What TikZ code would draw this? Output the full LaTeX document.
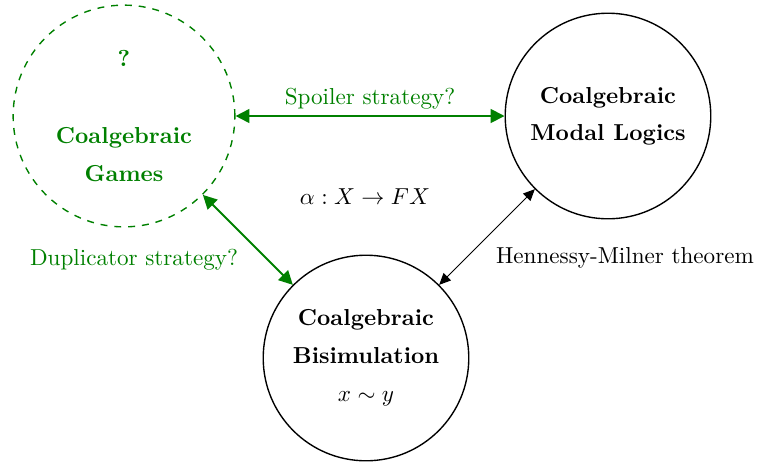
\documentclass[tikz,border=0pt]{standalone}
\usetikzlibrary{arrows.meta}
\definecolor{gamegreen}{RGB}{0,128,0}
\begin{document}
\begin{tikzpicture}[x=0.4329pt,y=-0.4329pt,
  topic/.style={circle,draw,semithick,align=center,font=\bfseries,inner sep=0pt},
  bigtopic/.style={topic,minimum size=89pt},
  gamestopic/.style={topic,dashed,gamegreen,text=gamegreen,minimum size=96pt},
  greenlink/.style={gamegreen,thick,{Triangle[length=6pt,width=6pt]}-{Triangle[length=6pt,width=6pt]}},
  blacklink/.style={black,thin,{Triangle[length=5pt,width=4.5pt]}-{Triangle[length=5pt,width=4.5pt]}},
  greenlabel/.style={text=gamegreen,inner sep=0pt}
]
\useasboundingbox (0,0) rectangle (757,463);

\node[gamestopic] (games) at (124,116) {?\\[4.5pt]\mbox{}\\[4.5pt]Coalgebraic\\[4.5pt]Games};
\node[bigtopic] (logic) at (608,116) {Coalgebraic\\[4pt]Modal Logics};
\node[bigtopic] (bisim) at (366,358) {Coalgebraic\\[4.5pt]Bisimulation\\[4.5pt]\mdseries$x\sim y$};

\draw[greenlink] (games) -- (logic);
\draw[greenlink] (games) -- (bisim);
\draw[blacklink] (bisim) -- (logic);

\node[greenlabel] (spoiler) at (370,99) {Spoiler strategy?};
\node[greenlabel] (dup) at (134,260) {Duplicator strategy?};
\node[inner sep=0pt] (coalg) at (365,197) {$\alpha : X \to FX$};
\node[inner sep=0pt] (hm) at (625,258) {Hennessy-Milner theorem};
\end{tikzpicture}
\end{document}
